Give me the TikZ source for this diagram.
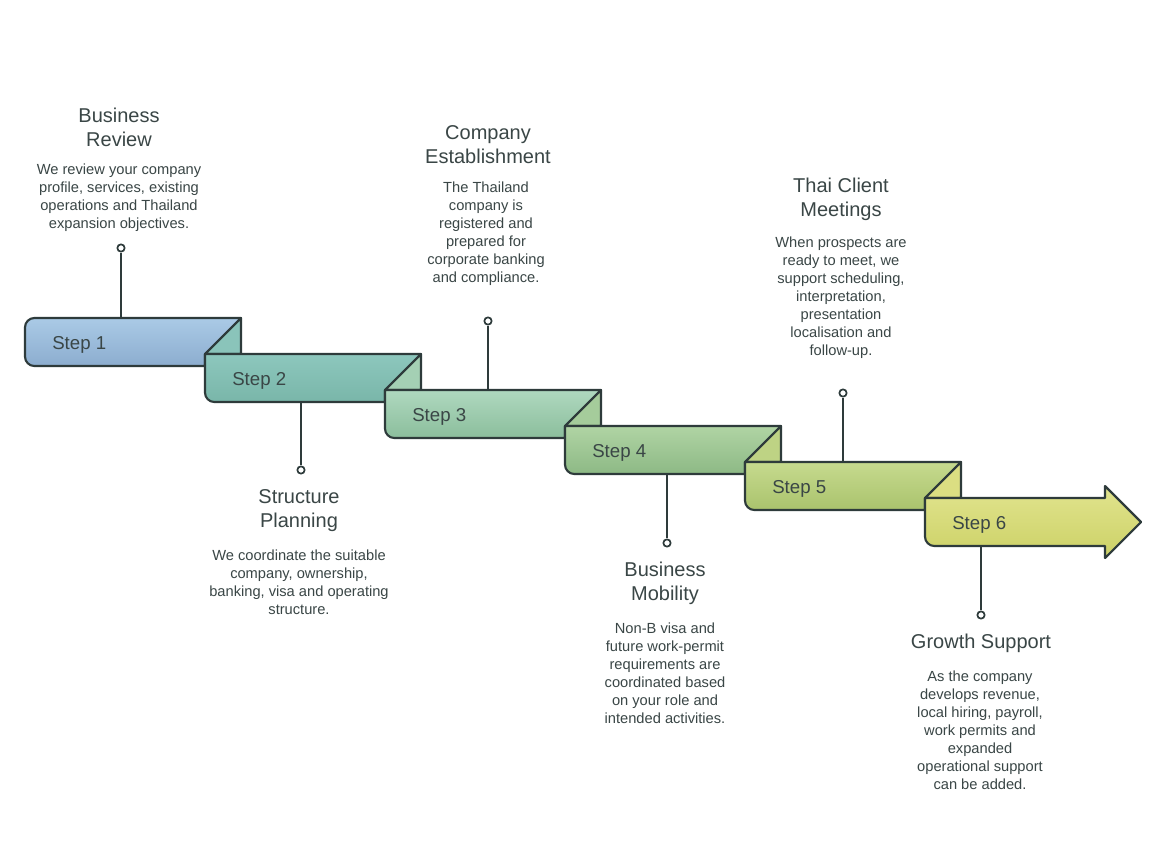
\documentclass[tikz,border=0pt]{standalone}
\usepackage{fontspec}
\setmainfont{Liberation Sans}

\definecolor{ink}{HTML}{2E3B3B}
\definecolor{txt}{HTML}{3A4646}
\definecolor{sOneT}{HTML}{AACAE6}
\definecolor{sOneB}{HTML}{8CADCF}
\definecolor{sTwoT}{HTML}{8DC7BD}
\definecolor{sTwoB}{HTML}{79B6A9}
\definecolor{sThreeT}{HTML}{AFD8BF}
\definecolor{sThreeB}{HTML}{8BBE9C}
\definecolor{sFourT}{HTML}{B0D4A4}
\definecolor{sFourB}{HTML}{8DB985}
\definecolor{sFiveT}{HTML}{C6DA8E}
\definecolor{sFiveB}{HTML}{AAC36D}
\definecolor{sSixT}{HTML}{E1E48E}
\definecolor{sSixB}{HTML}{CCD166}

\begin{document}
\begin{tikzpicture}[x=0.75pt, y=-0.75pt, line join=round]
\tikzstyle{band} = [draw=ink, line width=1.6pt]
\tikzstyle{steplabel} = [text=txt, anchor=base west, inner sep=0pt, font=\fontsize{14}{16}\selectfont]
\tikzstyle{dot} = [circle, draw=ink, fill=white, line width=1.3pt, inner sep=0pt, minimum size=5.5pt]
\tikzstyle{stem} = [draw=ink, line width=1.4pt]
\tikzstyle{heading} = [text=txt, align=center, inner sep=0pt, font=\fontsize{15}{18}\selectfont]
\tikzstyle{blurb} = [text=txt, align=center, inner sep=0pt, font=\fontsize{11}{13.5}\selectfont]

\fill[white] (0,0) rectangle (1166,858);
\useasboundingbox (0,0) rectangle (1166,858);

% the six steps of the ribbon
\draw[band, top color=sOneT, bottom color=sOneB] (133,366) [rounded corners=7pt] -- (25,366) -- (25,318) -- (133,318) [sharp corners] -- (241,318) -- (205,354) -- (205,366) -- cycle;

\draw[band, fill=sTwoT!85!sTwoB] (205,354) -- (241,318) -- (241,354) -- cycle;
\draw[band, top color=sTwoT, bottom color=sTwoB] (295,402) [rounded corners=7pt] -- (205,402) -- (205,378) [sharp corners] -- (205,354) -- (421,354) -- (385,390) -- (385,402) -- cycle;

\draw[band, fill=sThreeT!70!sThreeB] (385,390) -- (421,354) -- (421,390) -- cycle;
\draw[band, top color=sThreeT, bottom color=sThreeB] (475,438) [rounded corners=7pt] -- (385,438) -- (385,414) [sharp corners] -- (385,390) -- (601,390) -- (565,426) -- (565,438) -- cycle;

\draw[band, fill=sFourT!70!sFourB] (565,426) -- (601,390) -- (601,426) -- cycle;
\draw[band, top color=sFourT, bottom color=sFourB] (655,474) [rounded corners=7pt] -- (565,474) -- (565,450) [sharp corners] -- (565,426) -- (781,426) -- (745,462) -- (745,474) -- cycle;

\draw[band, fill=sFiveT!70!sFiveB] (745,462) -- (781,426) -- (781,462) -- cycle;
\draw[band, top color=sFiveT, bottom color=sFiveB] (835,510) [rounded corners=7pt] -- (745,510) -- (745,486) [sharp corners] -- (745,462) -- (961,462) -- (925,498) -- (925,510) -- cycle;

\draw[band, fill=sSixT!70!sSixB] (925,498) -- (961,462) -- (961,498) -- cycle;
\draw[band, top color=sSixT, bottom color=sSixB] (1015,546) [rounded corners=7pt] -- (925,546) -- (925,522) [sharp corners] -- (925,498) -- (1105,498) -- (1105,486) -- (1141,522) -- (1105,558) -- (1105,546) -- cycle;

\node (step1) [steplabel] at (52,349) {Step 1};
\node (step2) [steplabel] at (232,385) {Step 2};
\node (step3) [steplabel] at (412,421) {Step 3};
\node (step4) [steplabel] at (592,457) {Step 4};
\node (step5) [steplabel] at (772,493) {Step 5};
\node (step6) [steplabel] at (952,529) {Step 6};

% stems and their end dots
\coordinate (top1) at (121,318);
\coordinate (bot2) at (301,402);
\coordinate (top3) at (488,390);
\coordinate (bot4) at (667,474);
\coordinate (top5) at (843,462);
\coordinate (bot6) at (981,546);

\node (d1) [dot] at (121,248) {};
\node (d2) [dot] at (301,470) {};
\node (d3) [dot] at (488,321) {};
\node (d4) [dot] at (667,543) {};
\node (d5) [dot] at (843,393) {};
\node (d6) [dot] at (981,615) {};

\path [stem] (top1) -- (d1)
             (bot2) -- (d2)
             (top3) -- (d3)
             (bot4) -- (d4)
             (top5) -- (d5)
             (bot6) -- (d6);

% texts
\node (review) [heading] at (119,127) {Business\\Review};
\node (reviewtxt) [blurb] at (119,198) {We review your company\\profile, services, existing\\operations and Thailand\\expansion objectives.};

\node (planning) [heading] at (299,511) {Structure\\Planning};
\node (planningtxt) [blurb] at (299,582) {We coordinate the suitable\\company, ownership,\\banking, visa and operating\\structure.};

\node (setup) [heading] at (488,145) {Company\\Establishment};
\node (setuptxt) [blurb] at (486,234) {The Thailand\\company is\\registered and\\prepared for\\corporate banking\\and compliance.};

\node (mobility) [heading] at (665,583) {Business\\Mobility};
\node (mobilitytxt) [blurb] at (665,673) {Non-B visa and\\future work-permit\\requirements are\\coordinated based\\on your role and\\intended activities.};

\node (meetings) [heading] at (841,199) {Thai Client\\Meetings};
\node (meetingstxt) [blurb] at (841,298) {When prospects are\\ready to meet, we\\support scheduling,\\interpretation,\\presentation\\localisation and\\follow-up.};

\node (growth) [heading] at (981,643) {Growth Support};
\node (growthtxt) [blurb] at (980,730) {As the company\\develops revenue,\\local hiring, payroll,\\work permits and\\expanded\\operational support\\can be added.};
\end{tikzpicture}
\end{document}
